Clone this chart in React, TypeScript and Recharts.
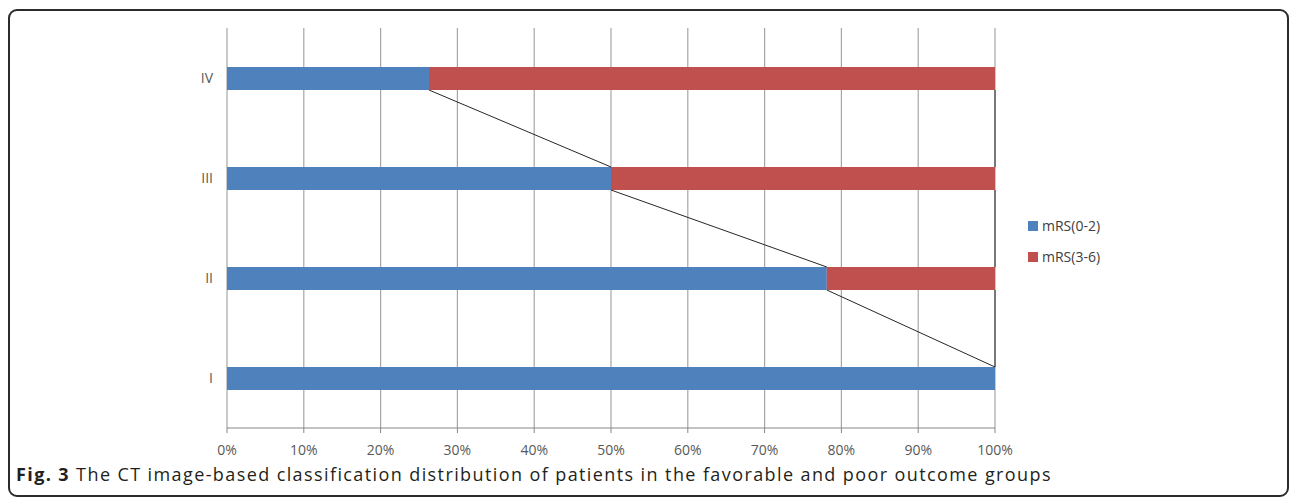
import React from "react";
import { Bar, BarChart, CartesianGrid, XAxis, YAxis } from "recharts";

const grades = ["IV", "III", "II", "I"];
const favorable = [26.3, 50, 78.1, 100]; // mRS(0-2), %
const poor = [73.7, 50, 21.9, 0]; // mRS(3-6), %
const xTicks = [0, 10, 20, 30, 40, 50, 60, 70, 80, 90, 100];

const BLUE = "#4F81BD";
const RED = "#C0504D";
const TICK_COLOR = "#595959";
const FONT = "'Open Sans', sans-serif";

const data = grades.map((g, i) => ({ grade: g, good: favorable[i], bad: poor[i] }));

// rects of the previous row, filled while the bars render, used for Excel-style series lines
const rects: Record<string, { x: number; y: number; width: number; height: number }[]> = { good: [], bad: [] };

function seriesShape(key: string, fill: string) {
  return (props: any) => {
    const { x, y, width, height, index } = props;
    rects[key][index] = { x, y, width, height };
    const prev = index > 0 ? rects[key][index - 1] : null;
    return (
      <g>
        {width > 0 && <rect x={x} y={y} width={width} height={height} fill={fill} />}
        {prev && (
          <line
            x1={prev.x + prev.width}
            y1={prev.y + prev.height}
            x2={x + width}
            y2={y}
            stroke="#262626"
            strokeWidth={1}
          />
        )}
      </g>
    );
  };
}

function LegendBox() {
  const items = [
    { label: "mRS(0-2)", color: BLUE },
    { label: "mRS(3-6)", color: RED },
  ];
  return (
    <div style={{ fontFamily: FONT, fontSize: 14, color: "#404040" }}>
      {items.map((it) => (
        <div key={it.label} style={{ display: "flex", alignItems: "center", height: 31 }}>
          <span style={{ width: 10, height: 10, background: it.color, marginRight: 4, display: "inline-block" }} />
          {it.label}
        </div>
      ))}
    </div>
  );
}

export default function App() {
  return (
    <div style={{ position: "absolute", left: 0, top: 0, width: 1290, height: 499, background: "#fff", overflow: "hidden" }}>
      <div
        style={{
          position: "absolute",
          left: 8,
          top: 9,
          width: 1281,
          height: 488,
          border: "2px solid #2b2b2b",
          borderRadius: 9,
          boxSizing: "border-box",
        }}
      />
      <div style={{ position: "absolute", left: 0, top: 0 }}>
        <BarChart
          width={1290}
          height={462}
          data={data}
          layout="vertical"
          margin={{ top: 28, right: 295, bottom: 0, left: 197 }}
          barSize={23}
        >
          <CartesianGrid horizontal={false} stroke="#A6A6A6" strokeWidth={1.2} />
          <XAxis
            type="number"
            domain={[0, 100]}
            ticks={xTicks}
            tickFormatter={(v) => `${v}%`}
            stroke="#868686"
            tickSize={5}
            tickMargin={12}
            height={34}
            tick={{ fill: TICK_COLOR, fontSize: 14, fontFamily: FONT }}
          />
          <YAxis
            type="category"
            dataKey="grade"
            width={30}
            axisLine={false}
            tickLine={false}
            tickSize={0}
            tickMargin={14}
            tick={{ fill: TICK_COLOR, fontSize: 14, fontFamily: FONT }}
          />
          <Bar dataKey="good" stackId="a" fill={BLUE} isAnimationActive={false} shape={seriesShape("good", BLUE)} />
          <Bar dataKey="bad" stackId="a" fill={RED} isAnimationActive={false} shape={seriesShape("bad", RED)} />
        </BarChart>
      </div>
      <div style={{ position: "absolute", left: 1028, top: 210 }}>
        <LegendBox />
      </div>
      <div
        style={{
          position: "absolute",
          left: 16,
          top: 462,
          fontFamily: FONT,
          fontSize: 18,
          letterSpacing: 1.4,
          color: "#231f20",
          whiteSpace: "nowrap",
        }}
      >
        <b>Fig. 3</b> The CT image-based classification distribution of patients in the favorable and poor outcome groups
      </div>
    </div>
  );
}
